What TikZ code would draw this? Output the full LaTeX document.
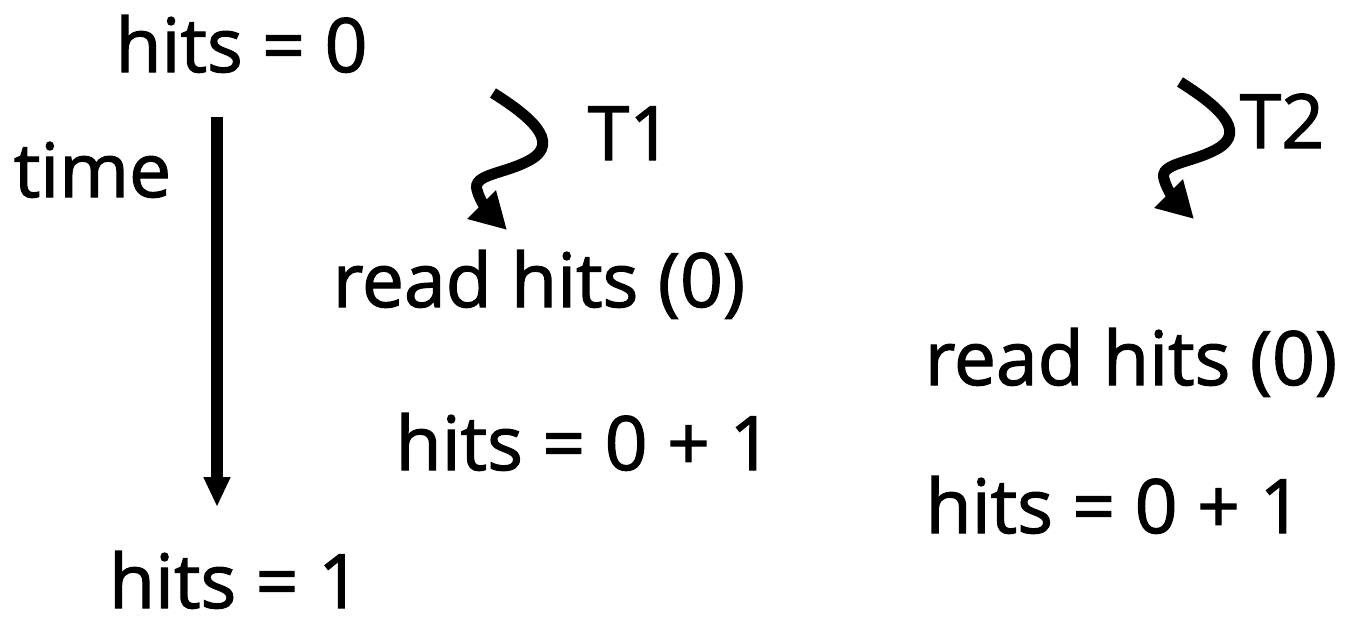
\documentclass[tikz,border=0pt]{standalone}
\usepackage{fontspec}
\setmainfont{Open Sans}
\newfontfamily\lblfont[FakeBold=1.6]{Open Sans}
\usetikzlibrary{arrows.meta}
\begin{document}
\begin{tikzpicture}[x=1pt,y=-1pt,
  lbl/.style={inner sep=0pt,anchor=base,text depth=0pt,font=\lblfont\fontsize{75}{90}\selectfont},
  squig/.style={line width=11pt,-{Triangle[length=36pt,width=38pt]}},
  timearrow/.style={line width=12pt,-{Triangle[length=30pt,width=25pt]}}]
\useasboundingbox (0,0) rectangle (1369,619);
\node[lbl] (h0) at (241.5,72) {hits = 0};
\node[lbl] (time) at (92.5,197) {time};
\node[lbl] (t1) at (630,160) {T1};
\node[lbl] (t2) at (1282,148) {T2};
\node[lbl] (r1) at (539,307) {read hits (0)};
\node[lbl] (a1) at (584,470) {hits = 0 + 1};
\node[lbl] (r2) at (1131,385) {read hits (0)};
\node[lbl] (a2) at (1114,533) {hits = 0 + 1};
\node[lbl] (h1) at (235,608) {hits = 1};
\coordinate (ts) at (217,117);
\coordinate (te) at (217,507);
\draw[timearrow] (ts) -- (te);
\coordinate (s1a) at (493,93);
\coordinate (s1b) at (530,160);
\coordinate (s1c) at (477,190);
\coordinate (s1d) at (507,230);
\draw[squig] (s1a) .. controls (528,115) and (562,142) .. (s1b)
  .. controls (505,174) and (472,174) .. (s1c)
  .. controls (480,202) and (490,213) .. (s1d);
\begin{scope}[shift={(687,-11)}]
\coordinate (s2a) at (493,93);
\coordinate (s2b) at (530,160);
\coordinate (s2c) at (477,190);
\coordinate (s2d) at (507,230);
\draw[squig] (s2a) .. controls (528,115) and (562,142) .. (s2b)
  .. controls (505,174) and (472,174) .. (s2c)
  .. controls (480,202) and (490,213) .. (s2d);
\end{scope}
\end{tikzpicture}
\end{document}
